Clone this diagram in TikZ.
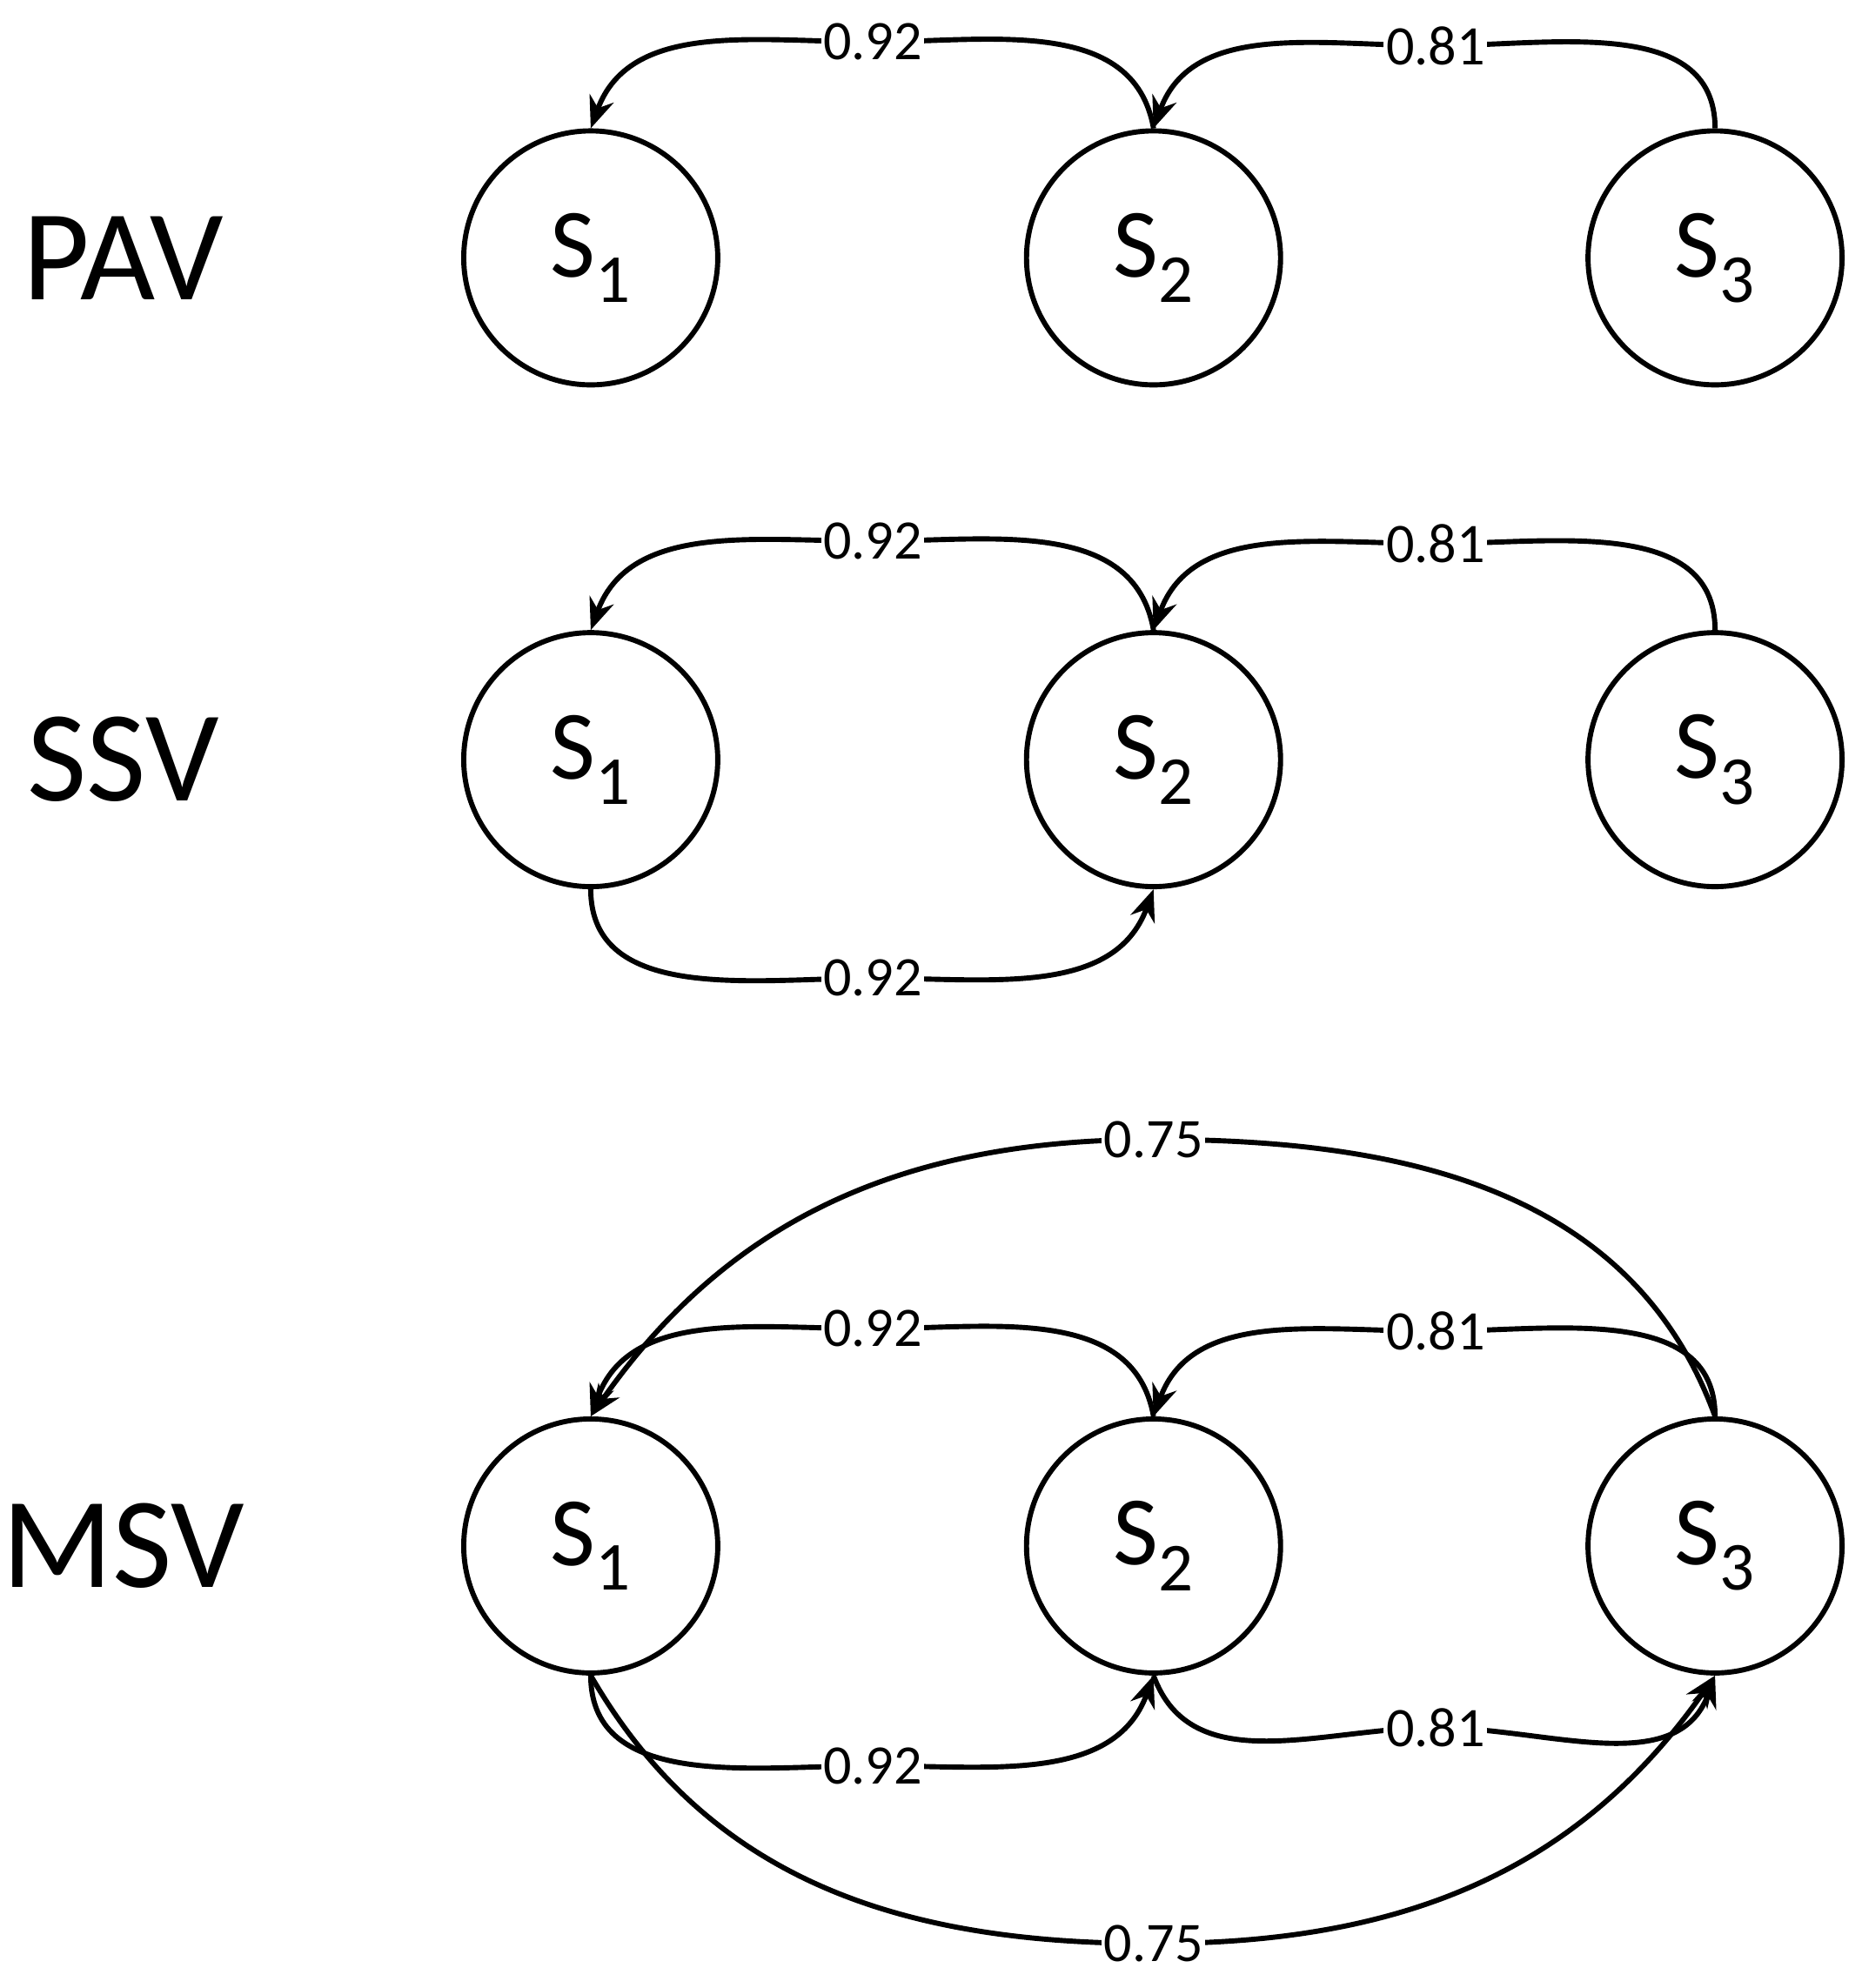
\documentclass[tikz,border=0pt]{standalone}
\usepackage{fontspec}
\setmainfont{Carlito}
\usetikzlibrary{arrows.meta}
\begin{document}
\begin{tikzpicture}[x=0.02cm,y=-0.02cm,
  st/.style={circle,draw,line width=2.3pt,minimum size=4cm,inner sep=0pt,font=\fontsize{44}{48}\selectfont},
  ttl/.style={font=\fontsize{58}{60}\selectfont},
  lab/.style={fill=white,inner sep=1pt,font=\fontsize{25}{28}\selectfont},
  ed/.style={line width=2.3pt,-{Stealth[length=0.5cm,width=0.4cm]}}]
\useasboundingbox (0,0) rectangle (1465,1565);
% titles
\node[ttl] (t1) at (97,203) {PAV};
\node[ttl] (t2) at (97,598) {SSV};
\node[ttl] (t3) at (97,1217) {MSV};
% nodes
\foreach \r/\y in {a/203,b/598,c/1217}{
  \node[st] (\r1) at (465,\y) {S\textsubscript{1}};
  \node[st] (\r2) at (908,\y) {S\textsubscript{2}};
  \node[st] (\r3) at (1350,\y) {S\textsubscript{3}};
}
% PAV
\coordinate (pa) at (687,33); \coordinate (pb) at (1130,36);
\draw[ed] (a2.north) to[out=100,in=0] (pa) to[out=180,in=70] (a1.north);
\draw[ed] (a3.north) to[out=90,in=0] (pb) to[out=180,in=70] (a2.north);
\node[lab] (la) at (pa) {0.92}; \node[lab] (lb) at (pb) {0.81};
% SSV
\coordinate (qa) at (687,426); \coordinate (qb) at (1130,428); \coordinate (qc) at (687,770);
\draw[ed] (b2.north) to[out=100,in=0] (qa) to[out=180,in=70] (b1.north);
\draw[ed] (b3.north) to[out=90,in=0] (qb) to[out=180,in=70] (b2.north);
\draw[ed] (b1.south) to[out=-90,in=180] (qc) to[out=0,in=-110] (b2.south);
\node[lab] (lc) at (qa) {0.92}; \node[lab] (ld) at (qb) {0.81}; \node[lab] (le) at (qc) {0.92};
% MSV
\coordinate (ra) at (687,1046); \coordinate (rb) at (1130,1048);
\coordinate (rc) at (687,1390); \coordinate (rd) at (1130,1360);
\coordinate (re) at (908,897); \coordinate (rf) at (908,1530);
\draw[ed] (c2.north) to[out=100,in=0] (ra) to[out=180,in=70] (c1.north);
\draw[ed] (c3.north) to[out=90,in=0] (rb) to[out=180,in=70] (c2.north);
\draw[ed] (c1.south) to[out=-90,in=180] (rc) to[out=0,in=-110] (c2.south);
\draw[ed] (c2.south) to[out=-70,in=180] (rd) to[out=0,in=-110] (c3.south);
\draw[ed] (c3.north) to[out=110,in=0] (re) to[out=180,in=55] (c1.north);
\draw[ed] (c1.south) to[out=-60,in=180] (rf) to[out=0,in=-125] (c3.south);
\node[lab] (lf) at (ra) {0.92}; \node[lab] (lg) at (rb) {0.81};
\node[lab] (lh) at (rc) {0.92}; \node[lab] (li) at (rd) {0.81};
\node[lab] (lj) at (re) {0.75}; \node[lab] (lk) at (rf) {0.75};
\end{tikzpicture}
\end{document}
